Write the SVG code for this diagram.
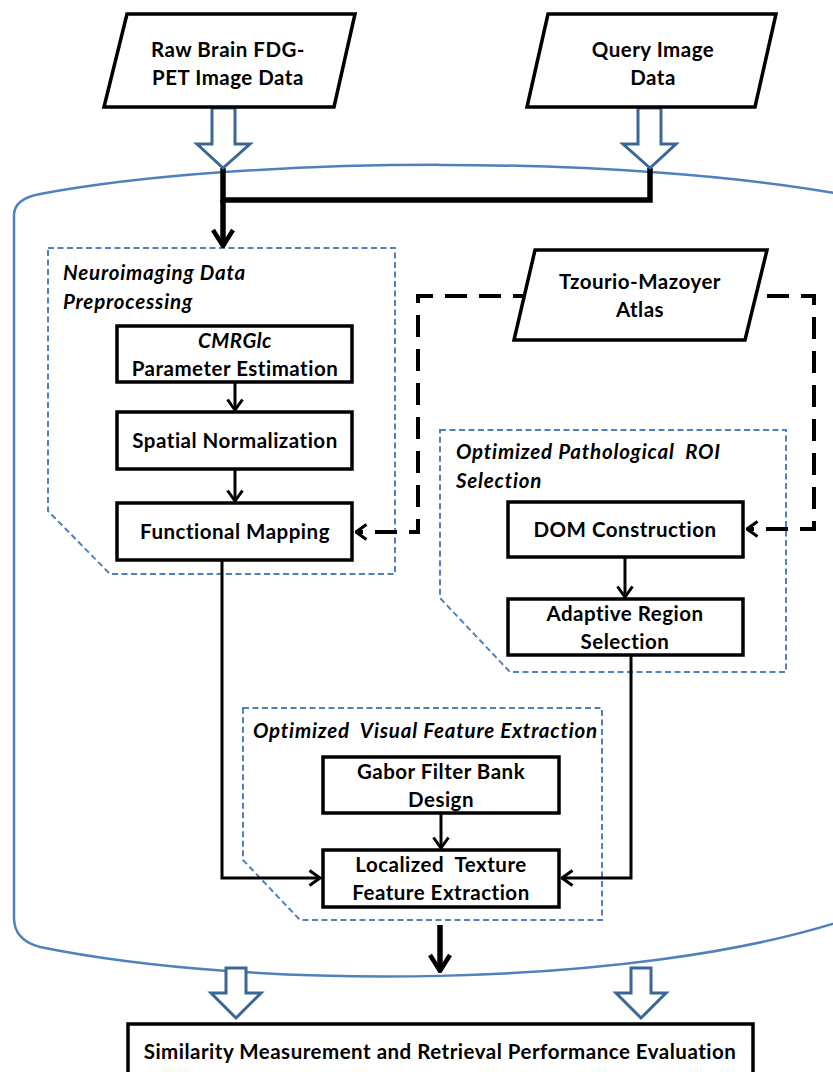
<svg xmlns="http://www.w3.org/2000/svg" width="833" height="1072" viewBox="0 0 833 1072">
<style>
text{font-family:Lato,"Liberation Sans",sans-serif;font-weight:bold;font-size:20.5px;letter-spacing:0.5px;fill:#000;text-anchor:middle}
.t{font-style:italic;text-anchor:start;letter-spacing:0.8px}
.box{fill:#fff;stroke:#000;stroke-width:3.5}
.grp{fill:none;stroke:#4f81bd;stroke-width:2;stroke-dasharray:6 3.5}
.hol{fill:#fff;stroke:#3a6796;stroke-width:3;stroke-linejoin:miter}
.c{fill:none;stroke:#000;stroke-width:3}
.ck{fill:none;stroke:#000;stroke-width:5.5}
.cd{fill:none;stroke:#000;stroke-width:4;stroke-dasharray:22 12}
</style>
<defs>
<marker id="v" viewBox="0 0 14 18" refX="12.5" refY="9" markerWidth="14" markerHeight="18" markerUnits="userSpaceOnUse" orient="auto">
<path d="M2,1.5 L12.5,9 L2,16.5" fill="none" stroke="#000" stroke-width="3"/>
</marker>
<marker id="vk" viewBox="0 0 20 24" refX="18" refY="12" markerWidth="20" markerHeight="24" markerUnits="userSpaceOnUse" orient="auto">
<path d="M2,2 L18,12 L2,22" fill="none" stroke="#000" stroke-width="4.5"/>
</marker>
</defs>
<rect width="833" height="1072" fill="#fff"/>

<!-- container -->
<path id="container" d="M14,918 L14,215 Q14,199 40,194 C250,155 630,155 845,195 L845,920 C630,990 250,990 40,947 Q14,940 14,918 Z" fill="none" stroke="#4f81bd" stroke-width="2.5"/>

<!-- group frames -->
<g id="grp-pre">
<path class="grp" d="M48,248 L395,248 L395,574 L110,574 L48,511 Z"/>
<text class="t" x="63" y="280">Neuroimaging Data</text>
<text class="t" x="63" y="309">Preprocessing</text>
</g>
<g id="grp-roi">
<path class="grp" d="M440,430 L786,430 L786,672 L510,672 L440,598 Z"/>
<text class="t" x="456" y="459" xml:space="preserve">Optimized Pathological  ROI</text>
<text class="t" x="456" y="488">Selection</text>
</g>
<g id="grp-vfe">
<path class="grp" d="M243,708 L602,708 L602,920 L300,920 L243,860 Z"/>
<text class="t" x="253" y="738" xml:space="preserve">Optimized  Visual Feature Extraction</text>
</g>

<!-- connectors -->
<g id="connectors">
<path class="ck" d="M223,168 L223,200 L650,200 L650,168"/>
<path class="ck" d="M223,200 L223,246" marker-end="url(#vk)"/>
<path class="c" d="M235,382 L235,410" marker-end="url(#v)"/>
<path class="c" d="M235,469 L235,501" marker-end="url(#v)"/>
<path class="cd" d="M535,296 L418,296 L418,532 L356,532" marker-end="url(#v)"/>
<path class="cd" d="M767,296 L814,296 L814,529 L747,529" marker-end="url(#v)"/>
<path class="c" d="M625,557 L625,597" marker-end="url(#v)"/>
<path class="c" d="M222,560 L222,878 L320,878" marker-end="url(#v)"/>
<path class="c" d="M631,655 L631,878 L562,878" marker-end="url(#v)"/>
<path class="c" d="M441,813 L441,848" marker-end="url(#v)"/>
<path class="ck" d="M440,925 L440,971" marker-end="url(#vk)"/>
<path class="hol" d="M212,108 L235,108 L235,144 L250,144 L223,168 L197,144 L212,144 Z"/>
<path class="hol" d="M638,108 L661,108 L661,144 L676,144 L650,168 L623,144 L638,144 Z"/>
<path class="hol" d="M226,968 L246,968 L246,993 L261,993 L236,1018 L211,993 L226,993 Z"/>
<path class="hol" d="M631,968 L651,968 L651,993 L666,993 L641,1018 L616,993 L631,993 Z"/>
</g>

<!-- nodes -->
<g id="raw">
<polygon class="box" points="127,14 355,14 334,107 104,107"/>
<text x="228" y="57">Raw Brain FDG-</text>
<text x="228" y="85">PET Image Data</text>
</g>
<g id="query">
<polygon class="box" points="548,14 776,14 755,107 527,107"/>
<text x="653" y="57">Query Image</text>
<text x="653" y="85">Data</text>
</g>
<g id="atlas">
<polygon class="box" points="535,250 767,250 745,340 514,340"/>
<text x="640" y="289">Tzourio-Mazoyer</text>
<text x="640" y="317">Atlas</text>
</g>
<g id="cmrglc">
<rect class="box" x="117" y="326" width="235" height="56"/>
<text x="235" y="348" font-style="italic">CMRGlc</text>
<text x="235" y="376">Parameter Estimation</text>
</g>
<g id="spatial">
<rect class="box" x="117" y="412" width="235" height="57"/>
<text x="235" y="448">Spatial Normalization</text>
</g>
<g id="functional">
<rect class="box" x="117" y="503" width="235" height="57"/>
<text x="235" y="539">Functional Mapping</text>
</g>
<g id="dom">
<rect class="box" x="508" y="502" width="235" height="55"/>
<text x="625" y="537">DOM Construction</text>
</g>
<g id="adaptive">
<rect class="box" x="508" y="599" width="235" height="56"/>
<text x="625" y="621">Adaptive Region</text>
<text x="625" y="649">Selection</text>
</g>
<g id="gabor">
<rect class="box" x="323" y="757" width="236" height="56"/>
<text x="441" y="779">Gabor Filter Bank</text>
<text x="441" y="807">Design</text>
</g>
<g id="localized">
<rect class="box" x="323" y="850" width="236" height="57"/>
<text x="441" y="872" xml:space="preserve">Localized  Texture</text>
<text x="441" y="900">Feature Extraction</text>
</g>
<g id="similarity">
<rect class="box" x="128" y="1024" width="625" height="60"/>
<text x="440" y="1059">Similarity Measurement and Retrieval Performance Evaluation</text>
</g>
</svg>
